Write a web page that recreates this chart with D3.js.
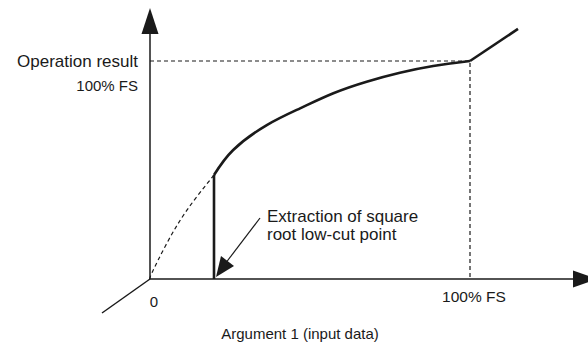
<!DOCTYPE html>
<html>
<head>
<meta charset="utf-8">
<script src="https://cdn.jsdelivr.net/npm/d3@7"></script>
<style>
  html, body { margin: 0; padding: 0; background: #fff; }
  svg { display: block; font-family: "Liberation Sans", Arial, Helvetica, sans-serif; }
  text { fill: #1a1a1a; }
</style>
</head>
<body>
<svg id="chart" width="588" height="344"></svg>
<script>
// Square-root extraction with low-cut: values in % of full scale
const lowCutInput = 20;
// operation result above the low-cut point (solid curve)
const rootCurve = [
  [20, 47.7], [26, 59.2], [36.5, 70.6], [46.9, 78.3], [57.3, 85.2],
  [67.7, 90.5], [78.1, 94.6], [88.5, 97.7], [100, 100]
];
// ideal root curve below the low-cut point (dashed)
const idealBelowCut = [[0, 0], [0.6, 2.8], [5.3, 16.5], [11.6, 31.7], [20, 47.7]];
// output beyond 100% FS input
const overRange = [[100, 100], [115, 114.7]];
const fullScale = 100;

const xTickLabels = ["0", "100% FS"];
const yLabels = ["Operation result", "100% FS"];
const xTitle = "Argument 1 (input data)";
const noteLines = ["Extraction of square", "root low-cut point"];

const svg = d3.select("#chart");
const ink = "#1a1a1a";

const x = d3.scaleLinear().domain([0, 100]).range([150, 470]);
const y = d3.scaleLinear().domain([0, 100]).range([279, 61]);

const line = d3.line().x(d => x(d[0])).y(d => y(d[1]));

// reference lines to the 100% FS point
svg.append("path")
  .attr("d", line([[0, fullScale], [fullScale, fullScale], [fullScale, 0]]))
  .attr("fill", "none").attr("stroke", ink).attr("stroke-width", 1.2)
  .attr("stroke-dasharray", "4,3");

// ideal curve below low-cut
svg.append("path")
  .attr("d", line.curve(d3.curveNatural)(idealBelowCut))
  .attr("fill", "none").attr("stroke", ink).attr("stroke-width", 1.2)
  .attr("stroke-dasharray", "4,3");

// axes
const y0 = y(0), x0 = x(0);
svg.append("line").attr("x1", x0).attr("y1", y0).attr("x2", x0).attr("y2", 30)
  .attr("stroke", ink).attr("stroke-width", 1.5);
svg.append("line").attr("x1", x0).attr("y1", y0).attr("x2", 576).attr("y2", y0)
  .attr("stroke", ink).attr("stroke-width", 1.5);
// depth axis
svg.append("line").attr("x1", x0).attr("y1", y0).attr("x2", x(-15)).attr("y2", y(-15.6))
  .attr("stroke", ink).attr("stroke-width", 1.5);

// arrowheads
svg.append("path")
  .attr("d", `M${x0},8 L${x0 + 8.5},34 L${x0 - 8.5},34 Z`)
  .attr("fill", ink);
svg.append("path")
  .attr("d", `M597,${y0} L573,${y0 - 8.5} L573,${y0 + 8.5} Z`)
  .attr("fill", ink);

// low-cut vertical step
svg.append("path")
  .attr("d", line.curve(d3.curveLinear)([[lowCutInput, 0], [lowCutInput, rootCurve[0][1]]]))
  .attr("fill", "none").attr("stroke", ink).attr("stroke-width", 2.6);

// root curve
svg.append("path")
  .attr("d", line.curve(d3.curveNatural)(rootCurve))
  .attr("fill", "none").attr("stroke", ink).attr("stroke-width", 2.6)
  .attr("stroke-linejoin", "round");

svg.append("path")
  .attr("d", line.curve(d3.curveLinear)(overRange))
  .attr("fill", "none").attr("stroke", ink).attr("stroke-width", 2.6);

// callout arrow to low-cut point
svg.append("line").attr("x1", 260).attr("y1", 218).attr("x2", 225).attr("y2", 264)
  .attr("stroke", ink).attr("stroke-width", 1.2);
svg.append("path")
  .attr("d", "M216,277 L221,256 L234,266 Z")
  .attr("fill", ink);

// labels
svg.append("text").attr("x", 138).attr("y", 67).attr("text-anchor", "end")
  .attr("font-size", 17).text(yLabels[0]);
svg.append("text").attr("x", 138).attr("y", 91).attr("text-anchor", "end")
  .attr("font-size", 15).text(yLabels[1]);

svg.append("text").attr("x", x(0) + 4).attr("y", 307).attr("text-anchor", "middle")
  .attr("font-size", 15).text(xTickLabels[0]);
svg.append("text").attr("x", x(fullScale) + 4).attr("y", 302).attr("text-anchor", "middle")
  .attr("font-size", 15.5).text(xTickLabels[1]);

svg.append("text").attr("x", 300).attr("y", 339).attr("text-anchor", "middle")
  .attr("font-size", 15).text(xTitle);

const note = svg.append("text").attr("x", 267).attr("font-size", 17);
note.selectAll("tspan").data(noteLines).join("tspan")
  .attr("x", 267).attr("y", (d, i) => 222 + i * 18).text(d => d);
</script>
</body>
</html>
